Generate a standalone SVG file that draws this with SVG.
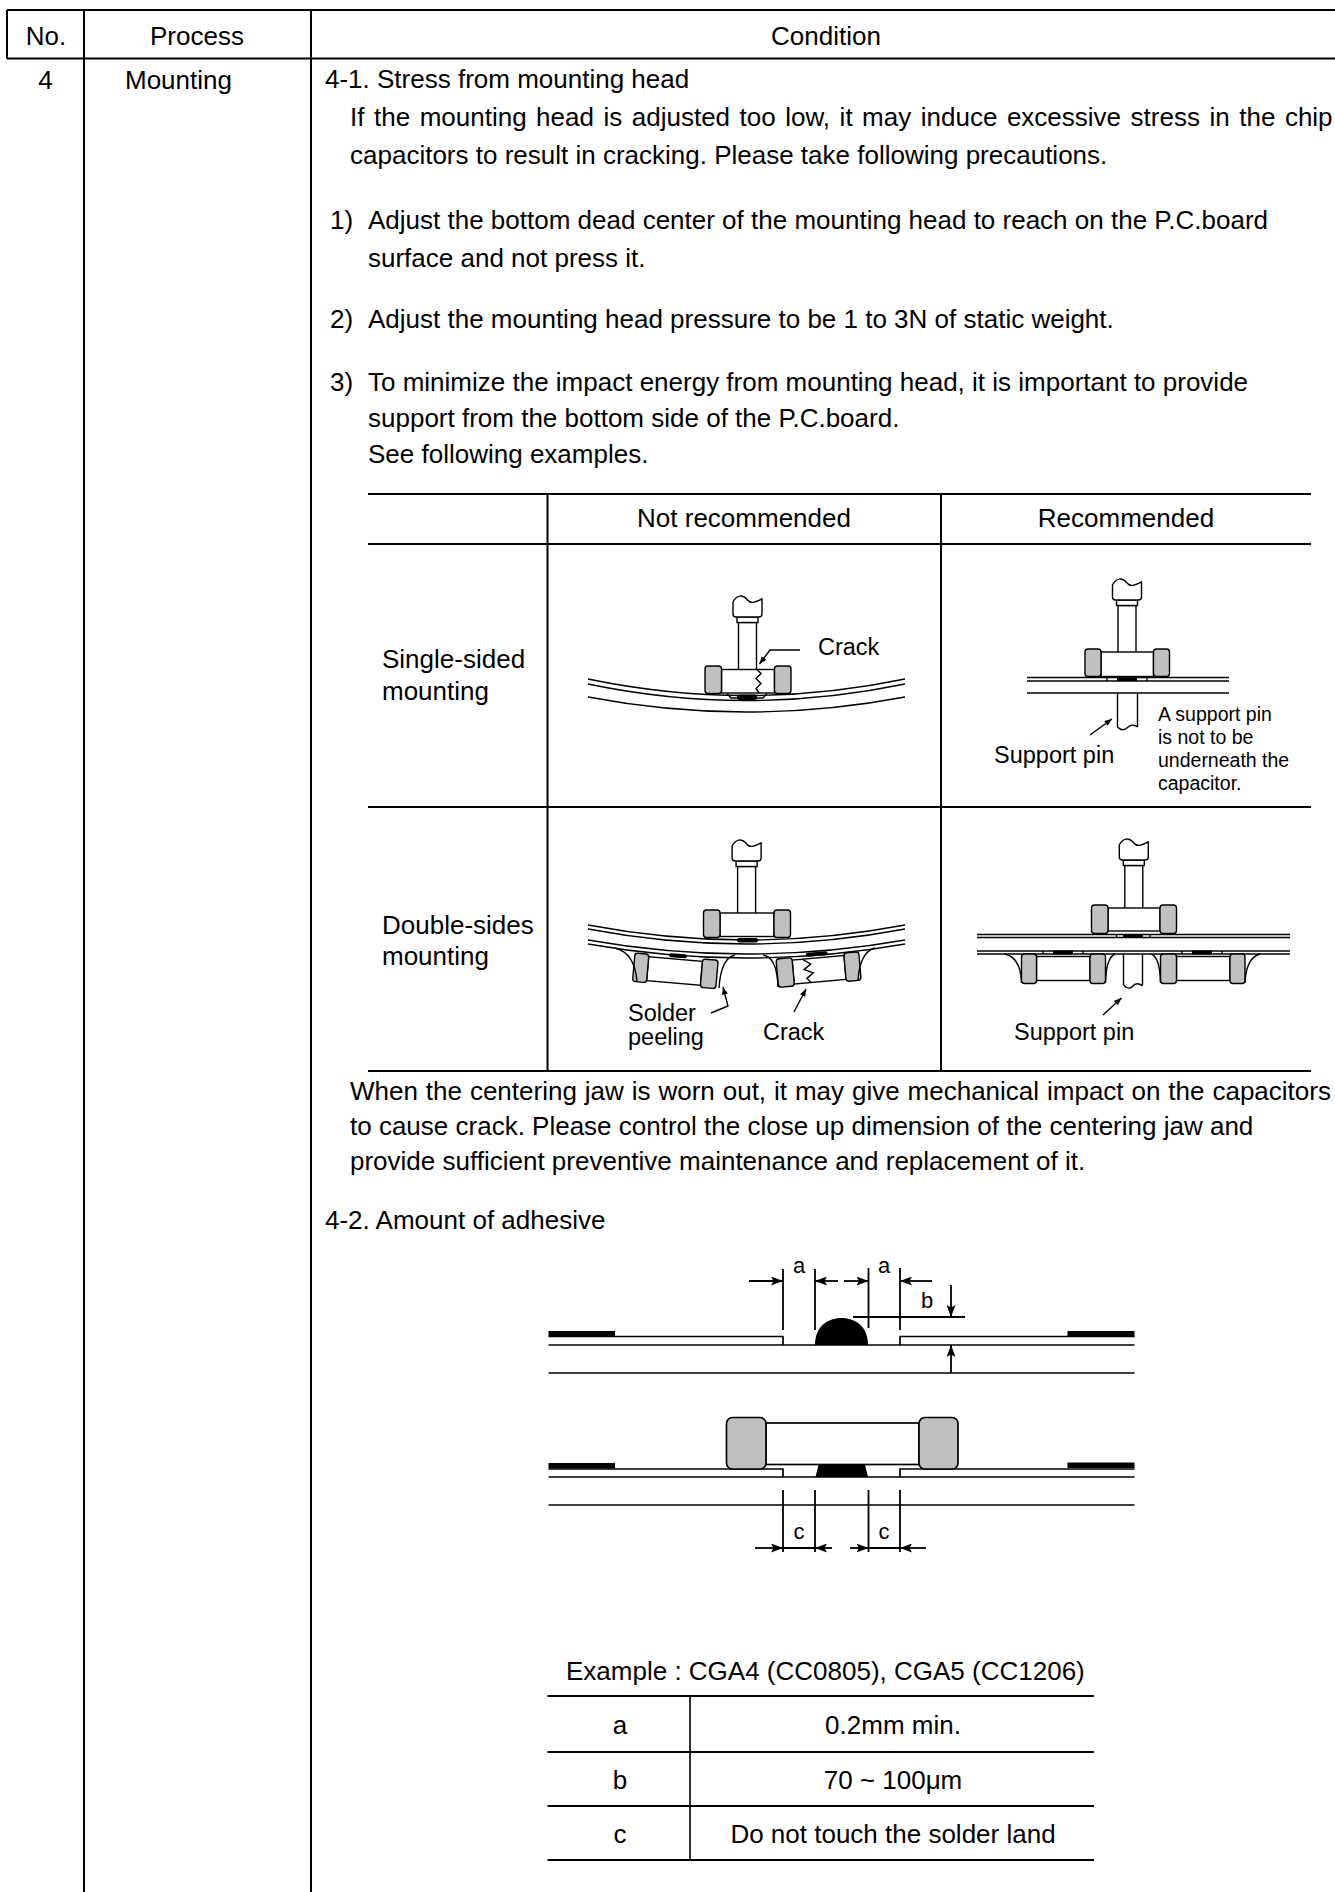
<svg xmlns="http://www.w3.org/2000/svg" xmlns:xlink="http://www.w3.org/1999/xlink" width="1335" height="1892" viewBox="0 0 1335 1892">
<style>
text{font-family:"Liberation Sans",Arial,sans-serif;fill:#000}
.t26{font-size:26px}
.t23{font-size:23.5px}
.t19{font-size:19.5px}
.t22{font-size:22px}
.tc{text-anchor:middle}
.tb{stroke:#000;stroke-width:2;fill:none}
.ln{stroke:#000;stroke-width:1.4;fill:none}
.dm{stroke:#000;stroke-width:1.8;fill:none}
.lf{stroke:#000;stroke-width:1.7;fill:none}
.tm{fill:#c0c0c0;stroke:#000;stroke-width:1.4}
.wb{fill:#fff;stroke:#000;stroke-width:1.4}
.bk{fill:#000;stroke:none}
</style>
<defs>
<marker id="arr" viewBox="0 0 12 9" refX="12" refY="4.5" markerWidth="12" markerHeight="9" markerUnits="userSpaceOnUse" orient="auto"><path d="M0,0 L12,4.5 L0,9 L2.5,4.5 Z" fill="#000"/></marker>
<marker id="arrs" viewBox="0 0 10 8" refX="10" refY="4" markerWidth="8" markerHeight="6" markerUnits="userSpaceOnUse" orient="auto"><path d="M0,0 L10,4 L0,8 Z" fill="#000"/></marker>
<g id="head">
<rect class="wb" x="-9" y="26.5" width="18" height="50"/>
<rect class="wb" x="-10.5" y="21" width="21" height="5.5"/>
<path class="wb" d="M-14.5,6 C-11,-1 -5,-2 0,4 C4,9 10,5 14.5,3 L14.5,18 Q14.5,21 11.5,21 L-11.5,21 Q-14.5,21 -14.5,18 Z"/>
</g>
</defs>
<rect width="1335" height="1892" fill="#fff"/>

<g id="main-table">
<path class="tb" d="M7,10 H1335 M7,58.5 H1335 M7,10 V58.5 M84,10 V1892 M311,10 V1892"/>
</g>

<g id="header">
<text class="t26 tc" x="46" y="45">No.</text>
<text class="t26 tc" x="197" y="45">Process</text>
<text class="t26 tc" x="826" y="45">Condition</text>
</g>

<g id="row-4">
<text class="t26 tc" x="45.5" y="89">4</text>
<text class="t26" x="125" y="89">Mounting</text>
</g>

<g id="text-4-1">
<text class="t26" x="325" y="88">4-1. Stress from mounting head</text>
<text class="t26" x="350" y="126" word-spacing="2.3">If the mounting head is adjusted too low, it may induce excessive stress in the chip</text>
<text class="t26" x="350" y="164">capacitors to result in cracking. Please take following precautions.</text>
<text class="t26" x="330" y="229">1)</text>
<text class="t26" x="368" y="229">Adjust the bottom dead center of the mounting head to reach on the P.C.board</text>
<text class="t26" x="368" y="267">surface and not press it.</text>
<text class="t26" x="330" y="328">2)</text>
<text class="t26" x="368" y="328">Adjust the mounting head pressure to be 1 to 3N of static weight.</text>
<text class="t26" x="330" y="391">3)</text>
<text class="t26" x="368" y="391">To minimize the impact energy from mounting head, it is important to provide</text>
<text class="t26" x="368" y="427">support from the bottom side of the P.C.board.</text>
<text class="t26" x="368" y="463">See following examples.</text>
</g>

<g id="examples-table">
<path class="tb" d="M368,494 H1311 M368,544 H1311 M368,807 H1311 M368,1071 H1311 M547.5,494 V1071 M941,494 V1071"/>
<text class="t26 tc" x="744" y="527">Not recommended</text>
<text class="t26 tc" x="1126" y="527">Recommended</text>
<text class="t26" x="382" y="668">Single-sided</text>
<text class="t26" x="382" y="700">mounting</text>
<text class="t26" x="382" y="934">Double-sides</text>
<text class="t26" x="382" y="965">mounting</text>
</g>

<g id="fig-single-not-recommended">
<path class="ln" d="M588,679 Q746,712 905,679"/>
<path class="ln" d="M588,684 Q746,717 905,684"/>
<path class="ln" d="M588,697 Q746,727 905,697"/>
<path class="ln" d="M727,693.5 L731,698 L763,698 L767,693.5"/>
<rect class="bk" x="737" y="694.5" width="20" height="5.5" rx="2.5"/>
<use xlink:href="#head" href="#head" x="747.5" y="596"/>
<rect class="wb" x="721.5" y="669.5" width="53" height="23.5"/>
<rect class="tm" x="705" y="666" width="16.5" height="27.5" rx="3"/>
<rect class="tm" x="774.5" y="666" width="16.5" height="27.5" rx="3"/>
<polyline class="ln" points="757,669.5 761,673.5 756,678.5 761,683.5 756,688.5 759,693"/>
<text class="t23" x="818" y="655">Crack</text>
</g>

<g id="fig-single-recommended">
<path class="ln" d="M1027,677.5 H1229 M1027,681 H1229 M1027,693 H1229"/>
<path class="ln" d="M1107,677.5 V681 M1147,677.5 V681"/>
<rect class="bk" x="1117" y="677" width="20" height="4"/>
<use xlink:href="#head" href="#head" x="1127" y="579"/>
<rect class="wb" x="1101" y="652" width="52.5" height="24.5"/>
<rect class="tm" x="1085" y="649" width="16" height="27.5" rx="3"/>
<rect class="tm" x="1153.5" y="649" width="16" height="27.5" rx="3"/>
<path class="ln" d="M1117.5,693 V727 M1137.5,693 V727 M1117.5,727 C1121,731 1125,730 1127.5,727.5 C1130,725 1134,724 1137.5,727"/>
<text class="t23" x="994" y="763">Support pin</text>
<text class="t19" x="1158" y="721">A support pin</text>
<text class="t19" x="1158" y="744">is not to be</text>
<text class="t19" x="1158" y="767">underneath the</text>
<text class="t19" x="1158" y="790">capacitor.</text>
</g>

<g id="fig-double-not-recommended">
<path class="ln" d="M588,925 Q746,955 905,925"/>
<path class="ln" d="M588,929 Q746,959 905,929"/>
<path class="ln" d="M588,940 Q746,968 905,940"/>
<path class="ln" d="M588,944 Q746,972 905,944"/>
<rect class="bk" x="737" y="938" width="21" height="4.5" rx="2"/>
<use xlink:href="#head" href="#head" x="746.6" y="840"/>
<rect class="wb" x="720" y="913" width="54" height="23.5"/>
<rect class="tm" x="703.5" y="910" width="16.5" height="27.5" rx="3"/>
<rect class="tm" x="774" y="910" width="16.5" height="27.5" rx="3"/>
<g transform="translate(635,953) rotate(5)">
<rect class="bk" x="34" y="-3" width="18" height="4" rx="2"/>
<rect class="wb" x="14" y="2.5" width="54" height="24"/>
<rect class="tm" x="0" y="0" width="14" height="28.5" rx="3"/>
<rect class="tm" x="68" y="0" width="15.5" height="28.5" rx="3"/>
</g>
<g transform="translate(776,959) rotate(-5)">
<rect class="bk" x="30" y="-3.5" width="22" height="4" rx="2"/>
<rect class="wb" x="16" y="2.5" width="52" height="24"/>
<rect class="tm" x="0" y="0" width="16" height="28.5" rx="3"/>
<rect class="tm" x="68" y="0" width="15" height="28.5" rx="3"/>
<polyline class="ln" points="26,2.5 34,8 27,13 36,17 29,22 33,26.5"/>
</g>
<path class="ln" d="M615,948 Q635,953 637,982 M719,988 Q721,958 735,955 M763,955 Q777,957 778,987 M858,980 Q860,952 875,948"/>
<text class="t23" x="628" y="1021">Solder</text>
<text class="t23" x="628" y="1045">peeling</text>
<text class="t23" x="763" y="1040">Crack</text>
</g>

<g id="fig-double-recommended">
<path class="ln" d="M977,934.5 H1290 M977,937.5 H1290 M977,951 H1290 M977,954 H1290"/>
<path class="ln" d="M1116.5,934.5 V937.5 M1150,934.5 V937.5 M1043,951 V954 M1083,951 V954 M1182,951 V954 M1222,951 V954"/>
<rect class="bk" x="1123" y="934" width="20" height="4"/>
<rect class="bk" x="1053" y="950.5" width="20" height="4"/>
<rect class="bk" x="1192" y="950.5" width="20" height="4"/>
<use xlink:href="#head" href="#head" x="1133.8" y="839"/>
<rect class="wb" x="1108" y="908" width="52" height="23"/>
<rect class="tm" x="1091.5" y="905" width="16.5" height="28.5" rx="3"/>
<rect class="tm" x="1160" y="905" width="16.5" height="28.5" rx="3"/>
<rect class="wb" x="1036.5" y="956.5" width="53.5" height="24"/>
<rect class="tm" x="1021.5" y="954" width="15" height="29.5" rx="3"/>
<rect class="tm" x="1090" y="954" width="15.5" height="29.5" rx="3"/>
<rect class="wb" x="1176.5" y="956.5" width="53.5" height="24"/>
<rect class="tm" x="1160.5" y="954" width="16" height="29.5" rx="3"/>
<rect class="tm" x="1230" y="954" width="15" height="29.5" rx="3"/>
<path class="ln" d="M1005,954 Q1021,958 1021.5,983 M1105.5,983 Q1106,958 1115,954 M1151.5,954 Q1160,958 1160.5,983 M1245,983 Q1246,958 1260,954"/>
<path class="ln" d="M1123.5,954 V985 M1142.5,954 V985 M1123.5,985 C1127,989 1131,989 1133,986 C1135,983 1139,983 1142.5,986"/>
<text class="t23" x="1014" y="1040">Support pin</text>
</g>

<g id="text-jaw">
<text class="t26" x="350" y="1100" word-spacing="0.7">When the centering jaw is worn out, it may give mechanical impact on the capacitors</text>
<text class="t26" x="350" y="1135">to cause crack. Please control the close up dimension of the centering jaw and</text>
<text class="t26" x="350" y="1170">provide sufficient preventive maintenance and replacement of it.</text>
<text class="t26" x="325" y="1229">4-2. Amount of adhesive</text>
</g>

<g id="fig-adhesive-top">
<rect class="bk" x="548.5" y="1331" width="66.5" height="5.5"/>
<rect class="bk" x="1067.5" y="1331" width="67" height="5.5"/>
<path class="lf" d="M548.5,1336.5 H783 V1345 M900,1345 V1336.5 H1134.5 M548.5,1345 H1134.5 M548.5,1373 H1134.5"/>
<path class="bk" d="M815,1345 C815,1327 827,1318 841.5,1318 C856,1318 868,1327 868,1345 Z"/>
<path class="dm" d="M783,1269 V1330 M815,1269 V1330 M868.5,1268 V1328 M900,1268 V1330 M853,1317 H965"/>
<text class="t22 tc" x="799" y="1273">a</text>
<text class="t22 tc" x="884" y="1273">a</text>
<text class="t22 tc" x="927" y="1308">b</text>
</g>

<g id="fig-adhesive-bottom">
<rect class="bk" x="548.5" y="1463" width="66.5" height="5.5"/>
<rect class="bk" x="1067.5" y="1462.5" width="67" height="5.5"/>
<path class="lf" d="M548.5,1469 H783 V1477 M900,1477 V1469 H1134.5 M548.5,1477 H1134.5 M548.5,1505 H1134.5"/>
<path class="bk" d="M815.5,1477 L818.5,1465 L865,1465 L868,1477 Z"/>
<rect class="wb" x="766" y="1423" width="153" height="41.5" style="stroke-width:1.7"/>
<rect class="tm" x="726.5" y="1417.5" width="39.5" height="51.5" rx="6" style="stroke-width:1.7"/>
<rect class="tm" x="919" y="1417.5" width="39" height="51.5" rx="6" style="stroke-width:1.7"/>
<path class="dm" d="M783,1490 V1552 M815,1490 V1552 M868.5,1490 V1552 M900,1490 V1552 M783,1548 H815 M868.5,1548 H900"/>
<text class="t22 tc" x="799" y="1539">c</text>
<text class="t22 tc" x="884" y="1539">c</text>
</g>

<g id="connectors">
<polyline class="ln" points="800,650 770,650 759.5,664" marker-end="url(#arrs)"/>
<line class="ln" x1="1090" y1="735" x2="1112" y2="719" marker-end="url(#arrs)"/>
<polyline class="ln" points="711,1013 728,1006 723,987" marker-end="url(#arrs)"/>
<line class="ln" x1="794" y1="1012" x2="806" y2="989" marker-end="url(#arrs)"/>
<line class="ln" x1="1103" y1="1015" x2="1121.5" y2="998" marker-end="url(#arrs)"/>
<path class="dm" d="M749,1281 H783" marker-end="url(#arr)"/>
<path class="dm" d="M838,1281 H815" marker-end="url(#arr)"/>
<path class="dm" d="M844,1281 H868.5" marker-end="url(#arr)"/>
<path class="dm" d="M932,1281 H900" marker-end="url(#arr)"/>
<path class="dm" d="M951,1285 V1317" marker-end="url(#arr)"/>
<path class="dm" d="M951,1373 V1345" marker-end="url(#arr)"/>
<path class="dm" d="M755,1548 H783" marker-end="url(#arr)"/>
<path class="dm" d="M832,1548 H815" marker-end="url(#arr)"/>
<path class="dm" d="M850,1548 H868.5" marker-end="url(#arr)"/>
<path class="dm" d="M926,1548 H900" marker-end="url(#arr)"/>
</g>

<g id="example-table">
<text class="t26" x="566" y="1680">Example : CGA4 (CC0805), CGA5 (CC1206)</text>
<path class="tb" d="M547.5,1696 H1094 M547.5,1752 H1094 M547.5,1806 H1094 M547.5,1860 H1094"/>
<path class="ln" d="M690,1696 V1860" style="stroke-width:1.6"/>
<text class="t26 tc" x="620" y="1734">a</text>
<text class="t26 tc" x="893" y="1734">0.2mm min.</text>
<text class="t26 tc" x="620" y="1789">b</text>
<text class="t26 tc" x="893" y="1789">70 ~ 100μm</text>
<text class="t26 tc" x="620" y="1843">c</text>
<text class="t26 tc" x="893" y="1843">Do not touch the solder land</text>
</g>
</svg>
